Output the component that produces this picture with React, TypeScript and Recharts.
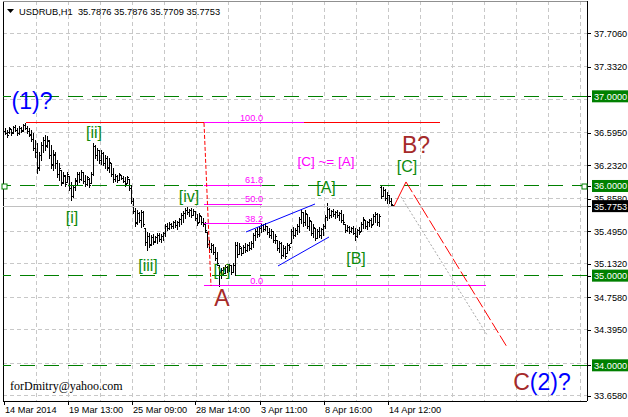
import React from 'react';
import {
  ComposedChart,
  Bar,
  XAxis,
  YAxis,
  CartesianGrid,
  ReferenceLine,
  ReferenceDot,
} from 'recharts';

type Ohlc = [number, number, number, number];

// USDRUB H1 bars as [open, high, low, close], grouped by wave
const leadIn: Ohlc[] = [
  [36.591, 36.636, 36.558, 36.613], [36.613, 36.647, 36.580, 36.591], [36.591, 36.625, 36.546, 36.569],
  [36.602, 36.658, 36.591, 36.647], [36.636, 36.636, 36.569, 36.591], [36.602, 36.669, 36.591, 36.658],
  [36.658, 36.680, 36.613, 36.625], [36.625, 36.647, 36.569, 36.591], [36.591, 36.669, 36.580, 36.647],
  [36.647, 36.658, 36.602, 36.613], [36.625, 36.691, 36.613, 36.680], [36.680, 36.703, 36.636, 36.647],
];

const waveI: Ohlc[] = [
  [36.647, 36.669, 36.591, 36.613], [36.613, 36.647, 36.558, 36.569], [36.580, 36.625, 36.502, 36.524],
  [36.524, 36.591, 36.401, 36.424], [36.424, 36.513, 36.323, 36.379], [36.379, 36.479, 36.145, 36.201],
  [36.212, 36.379, 36.178, 36.346], [36.346, 36.491, 36.290, 36.457], [36.457, 36.546, 36.379, 36.513],
  [36.513, 36.569, 36.401, 36.446], [36.457, 36.558, 36.435, 36.513], [36.502, 36.513, 36.312, 36.346],
  [36.346, 36.457, 36.201, 36.234], [36.245, 36.401, 36.178, 36.357], [36.346, 36.379, 36.201, 36.257],
  [36.257, 36.290, 36.100, 36.134], [36.134, 36.257, 36.067, 36.201], [36.178, 36.178, 36.011, 36.033],
  [36.045, 36.156, 36.033, 36.123], [36.112, 36.123, 36.000, 36.022], [36.045, 36.156, 36.045, 36.134],
  [36.112, 36.112, 35.955, 35.978], [35.978, 36.045, 35.844, 35.888], [35.888, 36.011, 35.877, 35.989],
];

const waveII: Ohlc[] = [
  [35.989, 36.089, 35.955, 36.067], [36.056, 36.156, 36.011, 36.134], [36.134, 36.156, 36.045, 36.078],
  [36.078, 36.178, 36.067, 36.156], [36.156, 36.156, 36.033, 36.056], [36.056, 36.123, 36.000, 36.022],
  [36.022, 36.112, 36.011, 36.100], [36.078, 36.089, 35.989, 36.011], [36.033, 36.156, 36.033, 36.134],
  [36.134, 36.479, 36.123, 36.446],
];

const waveIII: Ohlc[] = [
  [36.446, 36.457, 36.312, 36.346], [36.346, 36.424, 36.290, 36.401], [36.401, 36.401, 36.257, 36.290],
  [36.290, 36.401, 36.245, 36.368], [36.368, 36.379, 36.234, 36.257], [36.257, 36.346, 36.201, 36.312],
  [36.312, 36.335, 36.178, 36.201], [36.212, 36.312, 36.156, 36.268], [36.257, 36.257, 36.112, 36.134],
  [36.134, 36.201, 36.045, 36.078], [36.078, 36.134, 36.056, 36.112], [36.112, 36.123, 36.045, 36.067],
  [36.067, 36.145, 36.067, 36.134], [36.123, 36.123, 36.078, 36.089], [36.089, 36.112, 36.045, 36.056],
  [36.056, 36.100, 36.000, 36.022], [36.033, 36.112, 36.033, 36.100], [36.078, 36.078, 35.955, 35.978],
  [35.978, 36.011, 35.810, 35.833], [35.833, 35.866, 35.699, 35.721], [35.721, 35.755, 35.554, 35.587],
  [35.599, 35.732, 35.576, 35.699], [35.699, 35.710, 35.599, 35.621], [35.621, 35.732, 35.543, 35.710],
  [35.710, 35.721, 35.554, 35.576], [35.532, 35.532, 35.342, 35.376], [35.376, 35.487, 35.286, 35.442],
];

const waveIV: Ohlc[] = [
  [35.442, 35.476, 35.320, 35.342], [35.353, 35.454, 35.342, 35.431], [35.431, 35.465, 35.353, 35.376],
  [35.387, 35.442, 35.376, 35.431], [35.431, 35.476, 35.364, 35.454], [35.454, 35.476, 35.387, 35.409],
  [35.409, 35.465, 35.376, 35.442], [35.442, 35.487, 35.398, 35.476], [35.476, 35.576, 35.442, 35.554],
  [35.554, 35.587, 35.509, 35.532], [35.532, 35.599, 35.520, 35.576], [35.576, 35.587, 35.532, 35.554],
  [35.554, 35.610, 35.532, 35.599], [35.599, 35.621, 35.543, 35.565], [35.565, 35.610, 35.520, 35.599],
  [35.599, 35.643, 35.554, 35.632], [35.632, 35.699, 35.576, 35.677], [35.677, 35.721, 35.599, 35.699],
  [35.699, 35.755, 35.643, 35.732], [35.732, 35.766, 35.688, 35.710], [35.710, 35.744, 35.666, 35.732],
  [35.732, 35.755, 35.654, 35.677], [35.677, 35.744, 35.677, 35.721], [35.721, 35.721, 35.621, 35.643],
  [35.643, 35.688, 35.565, 35.587],
];

const waveV: Ohlc[] = [
  [35.599, 35.699, 35.599, 35.677], [35.666, 35.666, 35.576, 35.599], [35.599, 35.643, 35.554, 35.576],
  [35.576, 35.599, 35.487, 35.509], [35.487, 35.487, 35.320, 35.353], [35.353, 35.398, 35.264, 35.297],
  [35.297, 35.364, 35.264, 35.342], [35.342, 35.353, 35.242, 35.264], [35.264, 35.320, 35.175, 35.197],
  [35.197, 35.264, 35.119, 35.141], [35.119, 35.119, 34.885, 35.041],
];

const legA: Ohlc[] = [
  [35.041, 35.086, 34.974, 35.063], [35.063, 35.097, 35.007, 35.030], [35.030, 35.119, 35.030, 35.097],
  [35.097, 35.108, 35.041, 35.063], [35.063, 35.130, 35.052, 35.119], [35.119, 35.119, 35.019, 35.041],
  [35.041, 35.141, 35.041, 35.119], [35.119, 35.376, 35.007, 35.342], [35.342, 35.376, 35.208, 35.242],
  [35.242, 35.364, 35.242, 35.331], [35.309, 35.320, 35.230, 35.253], [35.253, 35.342, 35.253, 35.320],
  [35.320, 35.364, 35.264, 35.286], [35.286, 35.353, 35.275, 35.342], [35.342, 35.376, 35.286, 35.309],
  [35.309, 35.387, 35.297, 35.364], [35.364, 35.476, 35.320, 35.454], [35.454, 35.520, 35.398, 35.498],
  [35.498, 35.543, 35.431, 35.465], [35.465, 35.554, 35.442, 35.532], [35.532, 35.587, 35.487, 35.565],
  [35.565, 35.576, 35.498, 35.520], [35.520, 35.587, 35.509, 35.554], [35.554, 35.554, 35.465, 35.487],
  [35.487, 35.532, 35.431, 35.454], [35.454, 35.520, 35.420, 35.498], [35.498, 35.498, 35.376, 35.398],
  [35.398, 35.465, 35.364, 35.442], [35.398, 35.398, 35.286, 35.309], [35.309, 35.387, 35.264, 35.364],
  [35.364, 35.376, 35.197, 35.230], [35.230, 35.342, 35.219, 35.309], [35.309, 35.331, 35.197, 35.219],
  [35.253, 35.364, 35.253, 35.342], [35.342, 35.353, 35.286, 35.320], [35.364, 35.520, 35.364, 35.498],
  [35.498, 35.543, 35.420, 35.454], [35.454, 35.532, 35.442, 35.509], [35.509, 35.576, 35.465, 35.554],
  [35.554, 35.654, 35.487, 35.632], [35.632, 35.744, 35.587, 35.710],
];

const legB: Ohlc[] = [
  [35.710, 35.710, 35.554, 35.599], [35.599, 35.732, 35.565, 35.699], [35.688, 35.688, 35.532, 35.554],
  [35.554, 35.654, 35.509, 35.621], [35.610, 35.610, 35.454, 35.476], [35.476, 35.576, 35.431, 35.543],
  [35.532, 35.532, 35.398, 35.420], [35.420, 35.520, 35.420, 35.498], [35.498, 35.543, 35.431, 35.454],
  [35.454, 35.532, 35.420, 35.520], [35.520, 35.576, 35.454, 35.554], [35.554, 35.677, 35.532, 35.654],
  [35.654, 35.810, 35.621, 35.744], [35.744, 35.755, 35.643, 35.677], [35.677, 35.732, 35.654, 35.721],
  [35.721, 35.744, 35.666, 35.688], [35.688, 35.721, 35.643, 35.710], [35.710, 35.732, 35.654, 35.677],
  [35.677, 35.710, 35.621, 35.699], [35.699, 35.732, 35.599, 35.621], [35.621, 35.688, 35.576, 35.599],
  [35.576, 35.576, 35.487, 35.509], [35.509, 35.565, 35.498, 35.543], [35.543, 35.554, 35.476, 35.498],
  [35.498, 35.543, 35.487, 35.532], [35.532, 35.554, 35.465, 35.476], [35.476, 35.532, 35.398, 35.442],
  [35.442, 35.520, 35.431, 35.509], [35.509, 35.543, 35.465, 35.487], [35.498, 35.599, 35.498, 35.576],
  [35.576, 35.654, 35.532, 35.632], [35.621, 35.621, 35.532, 35.554], [35.554, 35.610, 35.520, 35.599],
  [35.599, 35.632, 35.554, 35.621], [35.621, 35.643, 35.543, 35.565], [35.576, 35.688, 35.576, 35.666],
  [35.666, 35.710, 35.599, 35.688], [35.688, 35.699, 35.565, 35.599], [35.599, 35.688, 35.554, 35.666],
];

const legC: Ohlc[] = [
  [35.989, 36.011, 35.866, 35.888], [35.888, 35.989, 35.888, 35.955], [35.955, 35.967, 35.844, 35.866],
  [35.866, 35.933, 35.810, 35.900], [35.900, 35.900, 35.810, 35.833], [35.833, 35.866, 35.788, 35.799],
  [35.7876, 35.7876, 35.7709, 35.7753],
];

const header = 'USDRUB,H1  35.7876 35.7876 35.7709 35.7753';
const lastPrice = 35.7753;
const levels = [37, 36, 35, 34];
const priceTicks = [37.706, 37.332, 36.969, 36.595, 36.232, 35.858, 35.495, 35.132, 34.758, 34.395, 34.021, 33.658];
const coveredTicks = [36.969, 34.021];
const timeTicks = [0, 32, 64, 96, 128, 160, 192];
const timeLabels = ['14 Mar 2014', '19 Mar 13:00', '25 Mar 09:00', '28 Mar 14:00', '3 Apr 11:00', '8 Apr 16:00', '14 Apr 12:00'];
const gridBars = [16, 32, 48, 64, 80, 96, 112, 128, 144, 160, 176, 192, 208, 224, 240, 256, 272, 288];

// fibonacci retracement of the decline
const fibHigh = 36.703;
const fibLow = 34.885;
const fibRatios = [100.0, 61.8, 50.0, 38.2, 0.0];

// channel and forecast path, as [bar, price]
const channelTop = [[121, 35.487], [155.5, 35.799]];
const channelBottom = [[137, 35.108], [162.5, 35.431]];
const forecast = [[195, 35.7753], [201, 36.045], [251.5, 34.204]];
const forecastGuide = [[198.5, 35.88], [241.5, 34.34]];

const bars = [...leadIn, ...waveI, ...waveII, ...waveIII, ...waveIV, ...waveV, ...legA, ...legB, ...legC].map(
  ([o, h, l, c], i) => ({ i, o, h, l, c, range: [l, h] })
);

const SANS = '"Liberation Sans", Arial, sans-serif';
const GREEN = '#008000';
const BROWN = '#a52a2a';
const BLUE = '#0000ff';
const MAGENTA = '#ff00ff';
const WAVE = '#0c8a0c';

const fibPrice = (r: number) => fibLow + ((fibHigh - fibLow) * r) / 100;
const seg = (pts: number[][]) => pts.map(([x, y]) => ({ x, y }));

function OhlcBar(props: any) {
  const { x, y, width, height, payload } = props;
  if (payload == null || !Number.isFinite(x)) return <g />;
  const top = Math.min(y, y + height);
  const span = Math.abs(height);
  const cx = Math.floor(x + width / 2);
  const range = payload.h - payload.l;
  const at = (v: number) => Math.round(top + (range ? ((payload.h - v) / range) * span : 0));
  return (
    <g fill="#000">
      <rect x={cx} y={Math.round(top)} width={1} height={Math.max(1, Math.round(span) + 1)} />
      <rect x={cx - 1} y={at(payload.o)} width={1} height={1} />
      <rect x={cx + 1} y={at(payload.c)} width={1} height={1} />
    </g>
  );
}

function TimeTick(props: any) {
  const { x, y, payload } = props;
  const k = timeTicks.indexOf(payload.value);
  if (k < 0) return <g />;
  const px = Math.floor(x);
  return (
    <g>
      <rect x={px} y={y} width={1} height={4} fill="#000" />
      <text x={px + 1} y={y + 12} fontSize={9.2} fontFamily={SANS} fill="#000">
        {timeLabels[k]}
      </text>
    </g>
  );
}

function PriceTick(props: any) {
  const { x, y, payload } = props;
  if (coveredTicks.includes(payload.value)) return <g />;
  return (
    <g>
      <rect x={x + 1} y={Math.round(y)} width={3} height={1} fill="#000" />
      <text x={x + 7} y={y + 3.5} fontSize={9.2} fontFamily={SANS} fill="#000">
        {payload.value.toFixed(4)}
      </text>
    </g>
  );
}

const priceBox = (value: number, bg: string) => (props: any) => {
  const { viewBox } = props;
  const right = viewBox.x + viewBox.width;
  const y = viewBox.y;
  return (
    <g>
      <rect x={right + 1} y={Math.round(y)} width={3} height={1} fill="#000" />
      <rect x={right + 5} y={y - 6} width={36} height={12} fill={bg} />
      <text x={right + 7} y={y + 3.5} fontSize={9.2} fontFamily={SANS} fill="#fff">
        {value.toFixed(4)}
      </text>
    </g>
  );
};

const note = (text: React.ReactNode, color: string, size: number, anchor: 'start' | 'middle' | 'end' = 'middle', dy = 0) =>
  (p: any) => (
    <text
      x={p.cx}
      y={p.cy + dy}
      fill={color}
      fontSize={size}
      fontFamily={SANS}
      textAnchor={anchor}
      dominantBaseline="central"
    >
      {text}
    </text>
  );

const handle = (p: any) => (
  <rect x={Math.round(p.cx) - 2} y={Math.round(p.cy) - 2} width={5} height={5} fill="#fff" stroke={GREEN} />
);

// wave labels: [text, bar, price, color, size]
const waveNotes: [React.ReactNode, number, number, string, number][] = [
  ['(1)?', 14, 36.948, BLUE, 23],
  ['[i]', 34, 35.643, WAVE, 16],
  ['[ii]', 45, 36.602, WAVE, 16],
  ['[iii]', 72, 35.108, WAVE, 16],
  ['[iv]', 92.5, 35.888, WAVE, 16],
  ['[v]', 109, 35.052, WAVE, 16],
  ['A', 109, 34.751, BROWN, 23],
  ['[A]', 161, 35.978, WAVE, 16],
  ['[B]', 176, 35.186, WAVE, 16],
  ['[C]', 201.5, 36.212, WAVE, 16],
  ['B?', 206, 36.457, BROWN, 23],
  ['[C] ~= [A]', 161, 36.268, MAGENTA, 13.5],
  [
    <>
      <tspan fill={BROWN}>C</tspan>
      <tspan fill={BLUE}>(2)?</tspan>
    </>,
    269,
    33.814,
    BLUE,
    23,
  ],
];

export default function App() {
  return (
    <div style={{ position: 'relative', width: 628, height: 417, background: '#fff' }}>
      <style>{'body{margin:0}'}</style>
      <ComposedChart width={628} height={417} data={bars} margin={{ top: 1, right: 0, bottom: 0, left: 3 }}>
        <CartesianGrid
          stroke="#c8c8c8"
          strokeDasharray="4 3"
          horizontalValues={priceTicks}
          verticalValues={gridBars}
          shapeRendering="crispEdges"
        />
        <XAxis
          dataKey="i"
          type="number"
          domain={[-0.5, 291.5]}
          allowDataOverflow
          ticks={timeTicks}
          interval={0}
          height={16}
          tickSize={0}
          tickMargin={0}
          tickLine={false}
          axisLine={{ stroke: '#000', shapeRendering: 'crispEdges' }}
          tick={(p: any) => <TimeTick {...p} />}
        />
        <YAxis
          orientation="right"
          type="number"
          domain={[33.602, 38.063]}
          allowDataOverflow
          ticks={priceTicks}
          interval={0}
          width={41}
          tickSize={0}
          tickMargin={0}
          tickLine={false}
          axisLine={{ stroke: '#000', shapeRendering: 'crispEdges' }}
          tick={(p: any) => <PriceTick {...p} />}
        />

        <ReferenceLine x={-0.5} stroke="#000" shapeRendering="crispEdges" />
        <ReferenceLine y={38.063} stroke="#909090" shapeRendering="crispEdges" />
        <ReferenceLine y={lastPrice} stroke="#c0c0c0" shapeRendering="crispEdges" label={{ content: priceBox(lastPrice, '#000') }} />
        {levels.map((v) => (
          <ReferenceLine
            key={v}
            y={v}
            stroke={GREEN}
            strokeDasharray="15 9"
            shapeRendering="crispEdges"
            label={{ content: priceBox(v, GREEN) }}
          />
        ))}

        <ReferenceLine segment={seg([[11, fibHigh], [218, fibHigh]])} stroke="#ff0000" shapeRendering="crispEdges" />
        {fibRatios.map((r) => (
          <ReferenceLine
            key={r}
            segment={seg([[100, fibPrice(r)], [r === 0 ? 241 : r === 100 ? 150 : 129, fibPrice(r)]])}
            stroke={MAGENTA}
            shapeRendering="crispEdges"
          />
        ))}
        <ReferenceLine segment={seg([[100, fibHigh], [103.5, fibLow]])} stroke="#ff0000" strokeDasharray="4 2" />
        <ReferenceLine segment={seg(channelTop)} stroke={BLUE} />
        <ReferenceLine segment={seg(channelBottom)} stroke={BLUE} />
        <ReferenceLine segment={seg(forecastGuide)} stroke="#a8a8a8" strokeDasharray="2 2" />
        <ReferenceLine segment={seg(forecast.slice(0, 2))} stroke="#ff0000" />
        <ReferenceLine segment={seg(forecast.slice(1))} stroke="#ff0000" strokeDasharray="12 3" />

        <Bar dataKey="range" barSize={1} shape={(p: any) => <OhlcBar {...p} />} isAnimationActive={false} />

        <ReferenceDot x={0} y={36} r={3} shape={handle} />
        <ReferenceDot x={290} y={36} r={3} shape={handle} />
        {fibRatios.map((r) => (
          <ReferenceDot
            key={'f' + r}
            x={129.5}
            y={fibPrice(r)}
            r={0}
            shape={note(r.toFixed(1), MAGENTA, 9.2, 'end', -5)}
          />
        ))}
        {waveNotes.map(([text, i, p, color, size], k) => (
          <ReferenceDot key={'w' + k} x={i} y={p} r={0} shape={note(text, color, size)} />
        ))}
      </ComposedChart>

      <svg style={{ position: 'absolute', left: 7, top: 9 }} width={8} height={5}>
        <polygon points="0,0 7,0 3.5,4" fill="#000" />
      </svg>
      <div
        style={{
          position: 'absolute',
          left: 19,
          top: 6,
          fontFamily: SANS,
          fontSize: 9.3,
          lineHeight: '12px',
          whiteSpace: 'pre',
          color: '#000',
        }}
      >
        {header}
      </div>
      <div
        style={{
          position: 'absolute',
          left: 10,
          top: 379,
          fontFamily: '"Liberation Serif", "Times New Roman", serif',
          fontSize: 12,
          lineHeight: '14px',
          color: '#000',
        }}
      >
        forDmitry@yahoo.com
      </div>
    </div>
  );
}
